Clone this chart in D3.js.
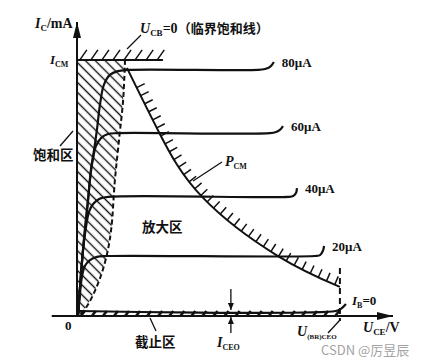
<!DOCTYPE html>
<html>
<head>
<meta charset="utf-8">
<script src="https://cdn.jsdelivr.net/npm/d3@7/dist/d3.min.js"></script>
<style>
  body { margin: 0; background: #fff; }
  text { font-family: "Liberation Serif", "Times New Roman", serif; font-weight: bold; fill: #111; }
  .cn { font-family: "Noto Sans CJK SC", sans-serif; font-weight: bold; }
  .wm { font-family: "Noto Sans CJK SC", "Noto Sans", sans-serif; font-weight: normal; fill: #a3a3a3; }
</style>
</head>
<body>
<div id="chart"></div>
<script>
// output characteristics, points are [U_CE, I_C] in relative units (0-100)
var ib80 = [[0.3,0],[1.9,22.4],[3.5,39.5],[4.4,49.7],[5.4,56.5],[6.3,63.3],[7.3,72.1],[8.5,78.6],[10.4,82.0],[12.9,83.3],[16.1,83.7],[57.3,83.7],[59.5,84.0],[61.1,84.7],[62.3,86.4]];
var ib60 = [[0.3,0],[1.9,22.4],[3.5,39.5],[4.4,49.0],[5.1,53.7],[6.0,57.8],[7.6,60.5],[9.8,61.9],[13.0,62.2],[61.1,62.2],[63.0,62.6],[64.2,63.3],[65.2,64.6]];
var ib40 = [[0.3,0],[1.9,22.4],[2.8,29.9],[3.8,35.4],[5.1,38.1],[7.0,39.8],[9.8,40.5],[66.8,40.5],[68.4,40.8],[69.3,41.8],[69.6,43.5]];
var ib20 = [[0.3,0],[0.9,7.1],[1.6,13.6],[2.5,17.0],[4.1,19.0],[6.3,20.1],[9.5,20.4],[75.3,20.4],[76.9,20.7],[77.8,22.1],[78.2,23.8]];
var ib0  = [[0.6,1.7],[81.9,1.7],[83.5,2.4],[85.1,4.1]];
var curveLabels = ["80μA", "60μA", "40μA", "20μA"];

// max power dissipation curve P_CM
var pcm = [[15.8,84.4],[25.9,62.6],[39.6,40.5],[63.6,20.4],[83.2,9.9]];
// critical saturation line U_CB = 0
var satLine = [[15.2,87.1],[14.6,73.5],[13.3,59.9],[12.0,46.3],[10.8,29.3],[9.2,19.7],[6.6,10.9],[3.2,3.4],[0.6,0]];

var icm = 87.1;    // I_CM
var icmEnd = 27.2;
var iceo = 1.7;    // I_CEO
var ubr = 83.2;    // U_(BR)CEO
var iceoAt = 48.7;

var W = 435, H = 363;

var svg = d3.select("#chart").append("svg")
  .attr("width", W).attr("height", H);

var x = d3.scaleLinear().domain([0, 100]).range([77, 393]);
var y = d3.scaleLinear().domain([0, 100]).range([316, 22]);

var defs = svg.append("defs");
defs.append("marker").attr("id", "arrow")
  .attr("viewBox", "0 0 16 8").attr("refX", 16).attr("refY", 4)
  .attr("markerWidth", 16).attr("markerHeight", 8)
  .attr("markerUnits", "userSpaceOnUse").attr("orient", "auto")
  .append("path").attr("d", "M0,0L16,4L0,8Z").attr("fill", "#111");
defs.append("marker").attr("id", "arrowS")
  .attr("viewBox", "0 0 7 6").attr("refX", 7).attr("refY", 3)
  .attr("markerWidth", 7).attr("markerHeight", 6)
  .attr("markerUnits", "userSpaceOnUse").attr("orient", "auto")
  .append("path").attr("d", "M0,0L7,3L0,6Z").attr("fill", "#111");

var hatch = defs.append("pattern").attr("id", "hatch")
  .attr("patternUnits", "userSpaceOnUse")
  .attr("width", 7).attr("height", 7)
  .attr("patternTransform", "rotate(-45)");
hatch.append("line").attr("x1", 3.5).attr("y1", -1).attr("x2", 3.5).attr("y2", 8)
  .attr("stroke", "#111").attr("stroke-width", 1.4);

var line = d3.line()
  .x(function(d) { return x(d[0]); })
  .y(function(d) { return y(d[1]); })
  .curve(d3.curveCatmullRom.alpha(0.5));
var smooth = d3.line()
  .x(function(d) { return x(d[0]); })
  .y(function(d) { return y(d[1]); })
  .curve(d3.curveNatural);

// saturation region hatching
var satRegion = [[0, 0], [0, icm]].concat(satLine);
svg.append("path")
  .attr("d", d3.line().x(function(d){ return x(d[0]); }).y(function(d){ return y(d[1]); })(satRegion) + "Z")
  .attr("fill", "url(#hatch)");

svg.append("path").attr("d", line(satLine))
  .attr("fill", "none").attr("stroke", "#111").attr("stroke-width", 2)
  .attr("stroke-dasharray", "5,3");

// I_CM line with hatch ticks
svg.append("line")
  .attr("x1", x(0)).attr("x2", x(icmEnd)).attr("y1", y(icm)).attr("y2", y(icm))
  .attr("stroke", "#111").attr("stroke-width", 2);
svg.selectAll(".icmTick").data(d3.range(0.9, 26, 3.5)).enter().append("line")
  .attr("x1", function(d) { return x(d); }).attr("y1", y(icm))
  .attr("x2", function(d) { return x(d) + 7; }).attr("y2", y(icm) - 10)
  .attr("stroke", "#111").attr("stroke-width", 1.5);

// cut-off band
svg.selectAll(".cutTick").data(d3.range(1.2, ubr - 1, 3.5)).enter().append("line")
  .attr("x1", function(d) { return x(d); }).attr("y1", y(0))
  .attr("x2", function(d) { return x(d) + 4; }).attr("y2", y(iceo))
  .attr("stroke", "#111").attr("stroke-width", 2.6);

// axes
svg.append("line")
  .attr("x1", x(-8)).attr("y1", y(0)).attr("x2", x(100)).attr("y2", y(0))
  .attr("stroke", "#111").attr("stroke-width", 2).attr("marker-end", "url(#arrow)");
svg.append("line")
  .attr("x1", x(0)).attr("y1", y(0)).attr("x2", x(0)).attr("y2", y(100))
  .attr("stroke", "#111").attr("stroke-width", 2).attr("marker-end", "url(#arrow)");

// base current curves
var curves = [ib80, ib60, ib40, ib20];
svg.selectAll(".ib").data(curves.concat([ib0])).enter().append("path")
  .attr("d", line)
  .attr("fill", "none").attr("stroke", "#111").attr("stroke-width", 2.2);

svg.selectAll(".ibLabel").data(curves).enter().append("text")
  .attr("x", function(d) { return x(d[d.length - 1][0]) + 8; })
  .attr("y", function(d) { return y(d[d.length - 1][1]) + 5; })
  .attr("font-size", 13)
  .text(function(d, i) { return curveLabels[i]; });

// P_CM curve + ticks
var pcmPath = svg.append("path").attr("d", smooth(pcm))
  .attr("fill", "none").attr("stroke", "#111").attr("stroke-width", 2);
var pNode = pcmPath.node(), L = pNode.getTotalLength();
var ticks = d3.range(22, L - 4, 9).map(function(s) {
  var p = pNode.getPointAtLength(s), q = pNode.getPointAtLength(s + 0.5);
  var tx = q.x - p.x, ty = q.y - p.y, n = Math.hypot(tx, ty);
  return { x: p.x, y: p.y, nx: ty / n, ny: -tx / n };
});
svg.selectAll(".pcmTick").data(ticks).enter().append("line")
  .attr("x1", function(d) { return d.x; }).attr("y1", function(d) { return d.y; })
  .attr("x2", function(d) { return d.x + d.nx * 9; }).attr("y2", function(d) { return d.y + d.ny * 9; })
  .attr("stroke", "#111").attr("stroke-width", 1.5);

// U_(BR)CEO dashed line
svg.append("line")
  .attr("x1", x(ubr)).attr("x2", x(ubr)).attr("y1", y(16.3)).attr("y2", y(0) + 5)
  .attr("stroke", "#111").attr("stroke-width", 2).attr("stroke-dasharray", "6,4");

// I_CEO arrows
svg.append("line")
  .attr("x1", x(iceoAt)).attr("x2", x(iceoAt)).attr("y1", y(iceo) - 22).attr("y2", y(iceo) - 1)
  .attr("stroke", "#111").attr("stroke-width", 1.3).attr("marker-end", "url(#arrowS)");
svg.append("line")
  .attr("x1", x(iceoAt)).attr("x2", x(iceoAt)).attr("y1", y(0) + 17).attr("y2", y(0) + 1)
  .attr("stroke", "#111").attr("stroke-width", 1.3).attr("marker-end", "url(#arrowS)");

// leader lines
var leaders = [[127,49,141,35],[60,146,73,131],[193,181,222,162],[150,318,156,331],[340,320,328,333]];
svg.selectAll(".leader").data(leaders).enter().append("line")
  .attr("x1", function(d) { return d[0]; }).attr("y1", function(d) { return d[1]; })
  .attr("x2", function(d) { return d[2]; }).attr("y2", function(d) { return d[3]; })
  .attr("stroke", "#111").attr("stroke-width", 1.3);

// labels with subscripts
function subLabel(px, py, main, sub, rest, size, subSize) {
  var t = svg.append("text").attr("x", px).attr("y", py).attr("font-size", size);
  t.append("tspan").attr("font-style", "italic").text(main);
  t.append("tspan").attr("font-size", subSize).attr("dy", 3).text(sub);
  if (rest) t.append("tspan").attr("dy", -3).text(rest);
  return t;
}

subLabel(35, 28, "I", "C", "/mA", 14, 9);
var ucb = subLabel(140, 33, "U", "CB", "=0", 14, 9);
ucb.append("tspan").attr("class", "cn").attr("font-size", 13).text("（临界饱和线）");
subLabel(50, 64, "I", "CM", null, 13, 8);
subLabel(225, 166, "P", "CM", null, 14, 8);
subLabel(217, 347, "I", "CEO", null, 14, 8);
subLabel(297, 336, "U", "(BR)CEO", null, 14, 7);
subLabel(363, 332, "U", "CE", "/V", 14, 9);
subLabel(352, 305, "I", "B", "=0", 13, 8);

svg.append("text").attr("x", 65).attr("y", 330).attr("font-size", 13).text("0");

var zones = [["饱和区", 33, 160], ["放大区", 142, 232], ["截止区", 135, 347]];
svg.selectAll(".zone").data(zones).enter().append("text")
  .attr("class", "cn").attr("font-size", 13.5)
  .attr("x", function(d) { return d[1]; }).attr("y", function(d) { return d[2]; })
  .text(function(d) { return d[0]; });

svg.append("text").attr("class", "wm").attr("x", 321).attr("y", 355)
  .attr("font-size", 13).text("CSDN @厉昱辰");
</script>
</body>
</html>
